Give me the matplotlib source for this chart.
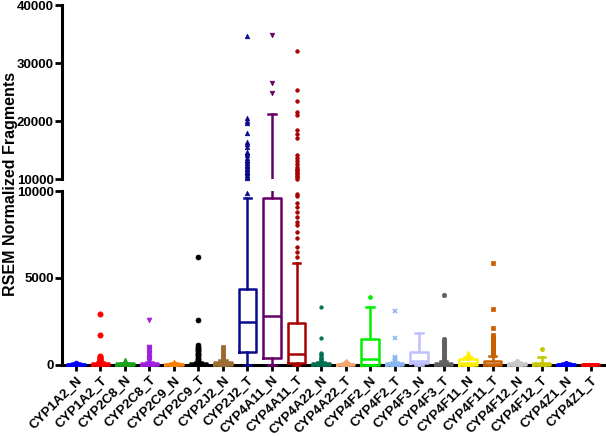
import matplotlib
matplotlib.use('Agg')
import matplotlib.pyplot as plt
from matplotlib.transforms import Bbox, TransformedBbox

plt.rcParams['font.family'] = ['Liberation Sans', 'DejaVu Sans']
plt.rcParams['font.weight'] = 'bold'

categories = ['CYP1A2_N', 'CYP1A2_T', 'CYP2C8_N', 'CYP2C8_T', 'CYP2C9_N', 'CYP2C9_T',
              'CYP2J2_N', 'CYP2J2_T', 'CYP4A11_N', 'CYP4A11_T', 'CYP4A22_N', 'CYP4A22_T',
              'CYP4F2_N', 'CYP4F2_T', 'CYP4F3_N', 'CYP4F3_T', 'CYP4F11_N', 'CYP4F11_T',
              'CYP4F12_N', 'CYP4F12_T', 'CYP4Z1_N', 'CYP4Z1_T']

colors = ['#0000FF', '#FF0000', '#1AA31A', '#A020E0', '#FF8000', '#000000',
          '#9C6B30', '#0A0A8C', '#660066', '#A80000', '#007050', '#F4A870',
          '#00F000', '#88B8F0', '#C0C0FF', '#606060', '#FFF000', '#C86000',
          '#C8C8C8', '#C8C800', '#0000FF', '#FF0000']

markers = ['o', 'o', '^', 'v', 'D', 'o', 's', '^', 'v', 'o', 'o', 'D',
           'o', 'x', 's', 'o', '^', 's', 'o', 'o', 'o', 'o']

marker_sizes = [3.5, 3.8, 3.5, 3.5, 3.2, 3.6, 3.2, 3.3, 3.3, 2.6, 2.5, 3.2,
                2.8, 3.2, 3.2, 3.2, 3.5, 3.5, 3.2, 3.0, 3.2, 3.2]

q1 = [0, 0, 0, 0, 0, 0, 0, 740, 360, 60, 0, 0,
      0, 0, 70, 0, 0, 0, 0, 0, 0, 0]
med = [10, 20, 20, 20, 10, 20, 30, 2430, 2810, 590, 10, 20,
       300, 20, 220, 20, 60, 50, 30, 20, 10, 5]
q3 = [30, 60, 60, 70, 40, 80, 120, 4330, 9580, 2370, 60, 50,
      1450, 60, 740, 80, 300, 220, 100, 80, 30, 15]
whislo = [0] * 22
whishi = [70, 150, 110, 130, 80, 140, 240, 9580, 21200, 5830, 130, 110,
          3330, 150, 1800, 200, 420, 490, 170, 410, 60, 30]

outliers = [
    [90],
    [190, 240, 290, 340, 390, 440, 490, 1680, 2890],
    [160, 220, 280],
    [180, 250, 320, 390, 460, 530, 600, 670, 740, 810, 880, 950, 990, 2550],
    [90],
    [190, 260, 330, 400, 470, 540, 610, 680, 750, 820, 890, 960, 1030, 1120, 2550, 6180],
    [330, 470, 610, 750, 890, 1030],
    [9900, 10170, 10420, 10690, 10950, 11200, 11460, 11720, 11980, 12240, 12500,
     12760, 13020, 13280, 13600, 14140, 14400, 14660, 15600, 16030, 16300, 17880,
     19600, 20050, 20470, 34650],
    [24780, 26500, 34880],
    [6200, 6490, 6770, 7290, 7630, 8040, 8210, 8500, 8790, 9080, 9300, 9710, 9850,
     10050, 10300, 10520, 10800, 11030, 11300, 11550, 11800, 12070, 12590, 13100,
     13620, 14140, 17070, 17760, 18450, 21030, 21600, 23450, 25340, 32120],
    [180, 250, 320, 390, 460, 530, 600, 680, 1550, 3330],
    [160],
    [3900],
    [230, 300, 370, 410, 1550, 3100],
    [],
    [290, 400, 510, 620, 730, 840, 950, 1060, 1170, 1280, 1380, 1450, 4010],
    [520, 600, 680],
    [550, 620, 700, 780, 860, 940, 1020, 1100, 1180, 1260, 1340, 1420, 1500, 1580,
     1700, 2090, 3180, 5830],
    [220],
    [880],
    [100],
    [],
]

upper_ticks = [10000, 20000, 30000, 40000]
lower_ticks = [0, 5000, 10000]
split = 10000

W, H = 606, 436
fig = plt.figure(figsize=(W / 100, H / 100), dpi=100)
left_px, right_px = 62, 606
ax_lo = fig.add_axes([left_px / W, (H - 364.5) / H, (right_px - left_px) / W, (364.5 - 191) / H])
ax_hi = fig.add_axes([left_px / W, (H - 179) / H, (right_px - left_px) / W, (179 - 5) / H])

xlim = (-0.57, 21.63)

for ax, lo, hi in [(ax_lo, 0, split), (ax_hi, split, 40000)]:
    for i in range(len(categories)):
        c = colors[i]
        if ax is ax_lo:
            fl = [v for v in outliers[i] if v < split]
        else:
            fl = [v for v in outliers[i] if v >= split]
        stats = dict(med=med[i], q1=q1[i], q3=q3[i], whislo=whislo[i], whishi=whishi[i],
                     fliers=fl)
        lp = dict(color=c, linewidth=1.8, zorder=3)
        art = ax.bxp([stats], positions=[i], widths=0.72, capwidths=0.3,
                     showfliers=True, manage_ticks=False,
                     boxprops=lp, medianprops=lp, whiskerprops=lp, capprops=lp,
                     flierprops=dict(marker=markers[i], markerfacecolor=c,
                                     markeredgecolor=c, markersize=marker_sizes[i],
                                     markeredgewidth=1.2 if markers[i] == 'x' else 0.5,
                                     linestyle='none', zorder=4))
        if ax is ax_lo:
            clip = TransformedBbox(Bbox([[0, -0.03], [1, 1]]), ax.transAxes)
            for key in ['boxes', 'medians', 'whiskers', 'caps']:
                for a in art[key]:
                    a.set_clip_box(clip)
        for a in art['fliers']:
            a.set_clip_on(False)
    ax.set_ylim(lo, hi)
    ax.set_xlim(*xlim)
    for s in ['top', 'right']:
        ax.spines[s].set_visible(False)
    ax.spines['left'].set_linewidth(2.2)
    ax.tick_params(axis='y', direction='out', length=5, width=2, labelsize=9.5, pad=1)

ax_hi.set_yticks(upper_ticks)
ax_hi.set_yticklabels([str(v) for v in upper_ticks], fontweight='bold')
ax_hi.spines['bottom'].set_visible(False)
ax_hi.set_xticks([])

ax_lo.set_yticks(lower_ticks)
ax_lo.set_yticklabels([str(v) for v in lower_ticks], fontweight='bold')
ax_lo.spines['bottom'].set_linewidth(2.2)
ax_lo.set_xticks(range(len(categories)))
ax_lo.set_xticklabels(categories, rotation=45, ha='right', rotation_mode='anchor',
                      fontsize=9.5, fontweight='bold')
ax_lo.tick_params(axis='x', direction='out', length=4, width=2, pad=3)

fig.text(0.018, (H - 184) / H, 'RSEM Normalized Fragments', rotation=90,
         ha='center', va='center', fontsize=11.5, fontweight='bold')

fig.savefig('out.png', dpi=100)
